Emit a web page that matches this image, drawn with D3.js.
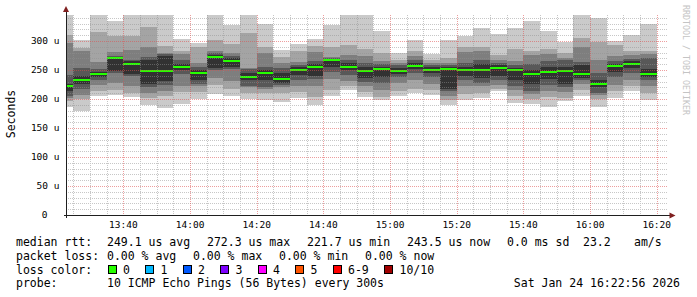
<!DOCTYPE html>
<html>
<head>
<meta charset="utf-8">
<script src="https://cdn.jsdelivr.net/npm/d3@7"></script>
<style>
  body { margin: 0; background: #fff; }
  svg { display: block; font-family: "DejaVu Sans Mono", monospace; }
</style>
</head>
<body>
<div id="chart"></div>
<script>
const WIDTH = 697;
const HEIGHT = 297;

// Graph window (3 hours) and 5-minute bins, first bin starts before the window
const graphStart = new Date(2026, 0, 24, 13, 22, 56);
const graphEnd = new Date(2026, 0, 24, 16, 22, 56);
const firstBin = new Date(2026, 0, 24, 13, 20, 0);

// Sorted ping rtts per bin (us), ping1 = fastest, ping10 = slowest
const ping1  = [187,179,205,207,204,190,185,191,200,209,205,200,199,194,202,190,206,215,204,198,206,210,207,190,198,201,214,193,191,187,197,205,186,201,213,198];
const ping2  = [196,200,213,215,210,202,205,212,212,224,218,211,210,210,212,203,215,223,212,203,214,217,216,198,208,210,218,205,200,204,202,215,200,214,222,210];
const ping3  = [202,207,225,228,222,210,214,222,222,236,231,220,217,220,222,222,234,231,222,215,228,232,226,205,222,222,224,216,208,214,212,226,207,224,232,222];
const ping4  = [206,218,233,244,240,220,224,243,226,250,252,223,221,225,232,234,247,241,230,228,238,245,238,213,233,228,232,222,213,225,220,232,210,238,245,232];
const ping5  = [214,226,238,248,243,226,231,250,233,254,256,233,233,228,241,240,255,250,236,238,243,251,245,218,240,236,240,233,226,234,226,237,221,246,253,238];
const ping6  = [226,240,247,273,265,268,275,260,250,276,270,245,250,245,255,260,268,262,256,256,254,262,255,256,256,260,258,254,250,256,256,258,232,261,265,252];
const ping7  = [242,253,251,274,268,272,277,268,256,280,275,251,255,253,259,266,270,268,262,260,258,268,258,258,262,268,262,258,260,266,268,264,245,266,269,270];
const ping8  = [297,283,264,281,284,290,280,277,262,283,279,254,279,262,264,281,273,276,275,265,262,275,262,262,281,282,268,265,276,278,271,290,268,274,276,278];
const ping9  = [311,288,315,309,308,325,292,282,290,302,294,314,290,272,282,292,290,293,286,280,267,282,268,270,290,290,276,286,283,287,280,306,299,293,283,282];
const ping10 = [360,301,360,335,360,360,360,303,296,360,328,360,330,285,295,303,328,360,360,318,280,301,277,301,308,322,312,322,334,317,299,360,340,300,311,330];
const medians = [221.7,232.5,242.5,270.5,260.5,249,249,255,245.5,272.3,266,237.5,244,234,249.5,255,266.5,254.5,248.5,251.5,248.5,257.5,250.5,252.5,250,250.5,253.5,249.5,243,247,247.5,243.5,226.5,256.5,261,243.5];

const yTicks = [0, 50, 100, 150, 200, 250, 300];
const smokeColors = ["#cacaca", "#a4a4a4", "#7e7e7e", "#585858", "#323232"];

const rttStats = ["249.1 us avg", "272.3 us max", "221.7 us min", "243.5 us now", "0.0 ms sd", "23.2", "am/s"];
const lossStats = ["0.00 % avg", "0.00 % max", "0.00 % min", "0.00 % now"];
const lossLabels = ["0", "1", "2", "3", "4", "5", "6-9", "10/10"];
const lossColors = ["#26ff00", "#00b8ff", "#0059ff", "#7e00ff", "#ff00ff", "#ff5500", "#ff0000", "#a10000"];
const probeText = "10 ICMP Echo Pings (56 Bytes) every 300s";
const stampText = "Sat Jan 24 16:22:56 2026";

// layout
const PLOT = { left: 66.5, right: 666.5, top: 15, bottom: 215 };
const LEGEND_FONT = 11.5;
const GRID_MINOR = "rgba(143,143,143,0.5)";
const GRID_MAJOR = "rgba(222,79,79,0.55)";

const x = d3.scaleTime().domain([graphStart, graphEnd]).range([PLOT.left, PLOT.right]);
const y = d3.scaleLinear().domain([0, 200 / 0.58]).range([PLOT.bottom, PLOT.top]);

const pings = [ping1, ping2, ping3, ping4, ping5, ping6, ping7, ping8, ping9, ping10];
const bins = medians.map((median, i) => ({
  t0: d3.max([graphStart, d3.timeMinute.offset(firstBin, 5 * i)]),
  t1: d3.timeMinute.offset(firstBin, 5 * (i + 1)),
  p: pings.map((series) => series[i]),
  median
}));

const svg = d3.select("#chart")
  .append("svg")
  .attr("width", WIDTH)
  .attr("height", HEIGHT)
  .attr("viewBox", `0 0 ${WIDTH} ${HEIGHT}`);

svg.append("rect").attr("width", WIDTH).attr("height", HEIGHT).attr("fill", "#fff");

svg.append("defs").append("clipPath").attr("id", "plot-clip")
  .append("rect")
  .attr("x", PLOT.left).attr("y", PLOT.top)
  .attr("width", PLOT.right - PLOT.left).attr("height", PLOT.bottom - PLOT.top);

const plot = svg.append("g").attr("clip-path", "url(#plot-clip)");

// smoke: outer pair first, inner pairs drawn over it
smokeColors.forEach((color, j) => {
  plot.append("g")
    .attr("shape-rendering", "crispEdges")
    .selectAll("rect")
    .data(bins)
    .join("rect")
    .attr("x", (d) => x(d.t0))
    .attr("width", (d) => x(d.t1) - x(d.t0))
    .attr("y", (d) => y(d.p[9 - j]))
    .attr("height", (d) => y(d.p[j]) - y(d.p[9 - j]))
    .attr("fill", color);
});

// dotted grid (1px on / 1px off), drawn over the smoke like rrdtool does
const minorTimes = d3.timeMinute.every(5).range(graphStart, graphEnd);
const majorTimes = d3.timeMinute.every(20).range(graphStart, graphEnd);
const minorVals = d3.range(10, 345, 10).filter((v) => v % 50 !== 0);
const majorVals = d3.range(50, 345, 50);
const gridLeft = Math.round(PLOT.left + 1);
const gridRight = Math.round(PLOT.right);

function hDots(vals) {
  return vals.map((v) => {
    const gy = Math.round(y(v));
    return d3.range(gridLeft, gridRight, 2).map((gx) => `M${gx},${gy}h1v1h-1z`).join("");
  }).join("");
}
function vDots(times) {
  return times.map((t) => {
    const gx = Math.round(x(t));
    return d3.range(PLOT.top, PLOT.bottom, 2).map((gy) => `M${gx},${gy}h1v1h-1z`).join("");
  }).join("");
}
const grid = svg.append("g").attr("shape-rendering", "crispEdges");
grid.append("path")
  .attr("d", vDots(minorTimes.filter((t) => t.getMinutes() % 20 !== 0)) + hDots(minorVals))
  .attr("fill", GRID_MINOR);
grid.append("path")
  .attr("d", vDots(majorTimes) + hDots(majorVals))
  .attr("fill", GRID_MAJOR);

// median line, coloured by loss (all bins had 0 loss)
plot.append("g")
  .attr("shape-rendering", "crispEdges")
  .selectAll("rect")
  .data(bins)
  .join("rect")
  .attr("x", (d) => x(d.t0))
  .attr("width", (d) => x(d.t1) - x(d.t0))
  .attr("y", (d) => y(d.median) - 1)
  .attr("height", 2)
  .attr("fill", lossColors[0]);

// axes
const axisColor = "#1f1f1f";
const arrowColor = "#7f1f1f";
const axes = svg.append("g").attr("shape-rendering", "crispEdges");
axes.append("line")
  .attr("x1", PLOT.left - 0.5).attr("x2", PLOT.left - 0.5)
  .attr("y1", PLOT.bottom + 3).attr("y2", PLOT.top - 4)
  .attr("stroke", axisColor);
axes.append("line")
  .attr("x1", PLOT.left - 3).attr("x2", PLOT.right + 5)
  .attr("y1", PLOT.bottom + 0.5).attr("y2", PLOT.bottom + 0.5)
  .attr("stroke", axisColor);

svg.append("path")
  .attr("d", `M${PLOT.left - 3.5},${PLOT.top - 3} L${PLOT.left + 2.5},${PLOT.top - 3} L${PLOT.left - 0.5},${PLOT.top - 9} Z`)
  .attr("fill", arrowColor);
svg.append("path")
  .attr("d", `M${PLOT.right + 3},${PLOT.bottom - 2.5} L${PLOT.right + 3},${PLOT.bottom + 3.5} L${PLOT.right + 9},${PLOT.bottom + 0.5} Z`)
  .attr("fill", arrowColor);

// tick labels
const timeFmt = d3.timeFormat("%H:%M");
svg.append("g").selectAll("text").data(majorTimes).join("text")
  .attr("x", (d) => x(d))
  .attr("y", 225)
  .attr("dy", "0.35em")
  .attr("text-anchor", "middle")
  .attr("font-size", 9.5)
  .text((d) => timeFmt(d));

svg.append("g").selectAll("text").data(yTicks).join("text")
  .attr("x", (d) => (d === 0 ? 47.5 : 59.5))
  .attr("y", (d) => y(d))
  .attr("dy", "0.35em")
  .attr("text-anchor", "end")
  .attr("font-size", 9.5)
  .text((d) => (d === 0 ? "0" : `${d} u`));

svg.append("text")
  .attr("transform", "translate(11,114) rotate(-90)")
  .attr("text-anchor", "middle")
  .attr("dy", "0.35em")
  .attr("font-size", 11.5)
  .text("Seconds");

svg.append("text")
  .attr("transform", "translate(686,5) rotate(90)")
  .attr("dy", "0.35em")
  .attr("font-size", 8.3)
  .attr("fill", "#c4c4c4")
  .text("RRDTOOL / TOBI OETIKER");

// legend
const legend = svg.append("g").attr("font-size", LEGEND_FONT).attr("fill", "#000");
const rowY = [241.5, 255.5, 269.5, 283];

function legendText(txt, tx, ty, anchor) {
  legend.append("text")
    .attr("x", tx).attr("y", ty).attr("dy", "0.35em")
    .attr("text-anchor", anchor || "start")
    .attr("xml:space", "preserve")
    .text(txt);
}

legendText("median rtt:", 16, rowY[0]);
const rttX = [107, 207, 307, 407, 507, 583, 634];
rttStats.forEach((s, i) => legendText(s, rttX[i], rowY[0]));

legendText("packet loss:", 16, rowY[1]);
lossStats.forEach((s, i) => legendText(s, 107 + i * 86, rowY[1]));

legendText("loss color:", 16, rowY[2]);
let lx = 107.5;
lossLabels.forEach((label, i) => {
  legend.append("rect")
    .attr("x", lx + 0.5).attr("y", rowY[2] - 4)
    .attr("width", 8).attr("height", 8)
    .attr("fill", lossColors[i])
    .attr("stroke", "#000")
    .attr("stroke-width", 1)
    .attr("shape-rendering", "crispEdges");
  legendText(label, lx + 15.5, rowY[2]);
  lx += 15.5 + label.length * 7 + 15;
});

legendText("probe:", 16, rowY[3]);
legendText(probeText, 107, rowY[3]);
legendText(stampText, 680, rowY[3], "end");
</script>
</body>
</html>
